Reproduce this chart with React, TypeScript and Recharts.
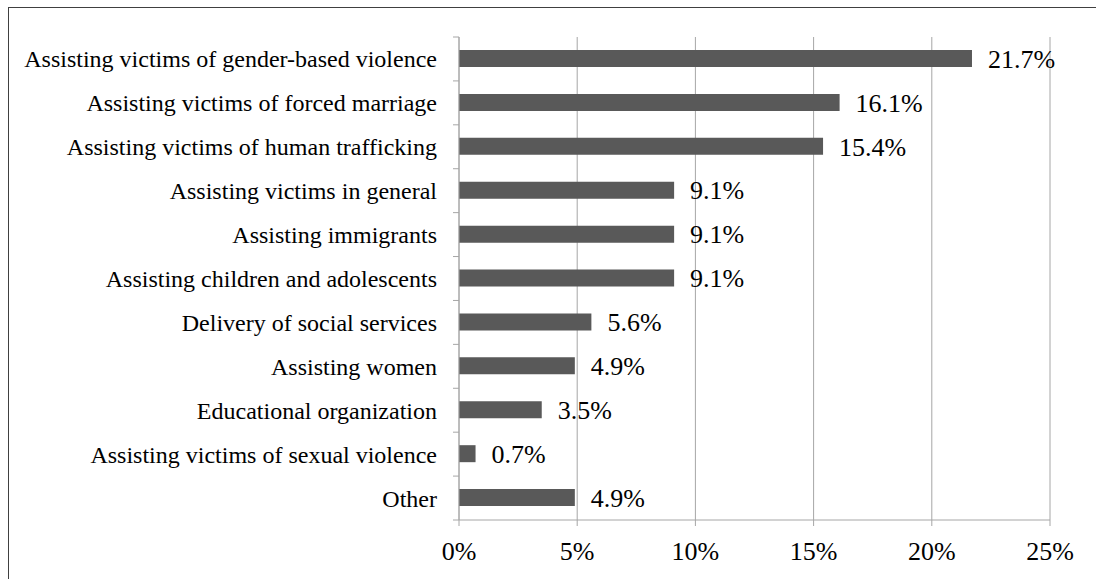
import React from "react";
import {
  BarChart,
  Bar,
  XAxis,
  YAxis,
  CartesianGrid,
  LabelList,
} from "recharts";

const categories = [
  "Assisting victims of gender-based violence",
  "Assisting victims of forced marriage",
  "Assisting victims of human trafficking",
  "Assisting victims in general",
  "Assisting immigrants",
  "Assisting children and adolescents",
  "Delivery of social services",
  "Assisting women",
  "Educational organization",
  "Assisting victims of sexual violence",
  "Other",
];

const shares = [21.7, 16.1, 15.4, 9.1, 9.1, 9.1, 5.6, 4.9, 3.5, 0.7, 4.9];

const xTicks = [0, 5, 10, 15, 20, 25];

const data = categories.map((name, i) => ({ name, value: shares[i] }));

const FONT = "Liberation Serif";
const GRID = "#a6a6a6";
const PLOT_TOP = 37;
const PLOT_BOTTOM = 520;
const AXIS_X = 459;
const BAND = (PLOT_BOTTOM - PLOT_TOP) / categories.length;

const CategoryTick = (props: any) => {
  const { x, y, payload, index } = props;
  return (
    <g>
      <text
        x={x}
        y={y}
        dy="0.355em"
        textAnchor="end"
        fill="#000"
        style={{ fontFamily: FONT, fontSize: 24 }}
      >
        {payload.value}
      </text>
      <line
        x1={AXIS_X - 6}
        x2={AXIS_X}
        y1={y - BAND / 2}
        y2={y - BAND / 2}
        stroke={GRID}
      />
      {index === categories.length - 1 && (
        <line
          x1={AXIS_X - 6}
          x2={AXIS_X}
          y1={y + BAND / 2}
          y2={y + BAND / 2}
          stroke={GRID}
        />
      )}
    </g>
  );
};

export default function App() {
  return (
    <div
      style={{
        position: "absolute",
        left: 0,
        top: 0,
        width: 1096,
        height: 579,
        overflow: "hidden",
        background: "#fff",
        fontFamily: FONT,
      }}
    >
      <div
        style={{
          position: "absolute",
          left: 8,
          top: 7,
          width: 1100,
          height: 600,
          border: "1px solid #404040",
        }}
      />
      <div style={{ position: "absolute", left: 0, top: 0 }}>
        <BarChart
          width={1096}
          height={579}
          data={data}
          layout="vertical"
          margin={{ top: PLOT_TOP, right: 46, bottom: 19, left: 0 }}
          style={{ fontFamily: FONT }}
        >
          <CartesianGrid horizontal={false} stroke={GRID} />
          <XAxis
            type="number"
            domain={[0, 25]}
            ticks={xTicks}
            tickFormatter={(v: number) => `${v}%`}
            height={40}
            tickSize={6}
            tickMargin={16}
            stroke={GRID}
            tick={{ fill: "#000", fontSize: 26, style: { fontFamily: FONT } }}
            interval={0}
          />
          <YAxis
            type="category"
            dataKey="name"
            width={AXIS_X}
            tickSize={0}
            tickMargin={22}
            tickLine={false}
            stroke={GRID}
            tick={<CategoryTick />}
            interval={0}
          />
          <Bar
            dataKey="value"
            fill="#595959"
            barSize={17}
            isAnimationActive={false}
          >
            <LabelList
              dataKey="value"
              position="right"
              offset={16}
              formatter={(v: any) => `${Number(v).toFixed(1)}%`}
              fill="#000"
              fontSize={26}
              style={{ fontFamily: FONT }}
            />
          </Bar>
        </BarChart>
      </div>
    </div>
  );
}
